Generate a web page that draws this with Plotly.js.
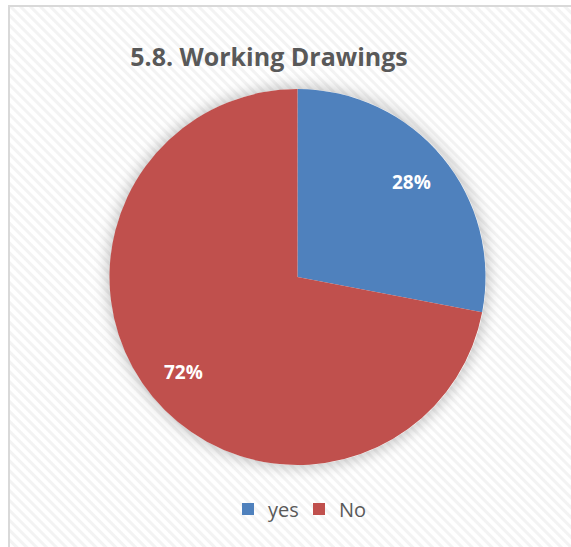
<!DOCTYPE html>
<html>
<head>
<meta charset="utf-8">
<script src="https://cdn.plot.ly/plotly-3.0.1.min.js"></script>
<style>
html,body{margin:0;padding:0;width:571px;height:547px;overflow:hidden;background:#fff;}
#frame{position:absolute;left:8px;top:5px;width:620px;height:600px;border:2px solid #d9d9d9;
 background:repeating-linear-gradient(45deg,#ffffff 0px,#ffffff 3px,#f3f3f3 4px,#f3f3f3 6px,#ffffff 7px);}
#glow{position:absolute;left:110px;top:89px;width:376px;height:376px;border-radius:50%;
 box-shadow:0 0 14px 3px rgba(0,0,0,0.22);}
#chart{position:absolute;left:0;top:0;width:571px;height:547px;}
</style>
</head>
<body>
<div id="frame"></div>
<div id="glow"></div>
<div id="chart"></div>
<script>
const categories = ["yes", "No"];
const values = [28, 72];
const colors = ["#4F81BD", "#C0504D"];
const chartTitle = "5.8. Working Drawings";

const W = 571, H = 547;
const cx = 297.5, cy = 277, r = 188;

const total = values.reduce((a, b) => a + b, 0);
const annotations = [];
let cum = 0;
values.forEach((v, i) => {
  const mid = (cum + v / 2) / total * 2 * Math.PI;
  cum += v;
  const d = 0.79 * r;
  annotations.push({
    xref: "paper", yref: "paper",
    x: (cx + d * Math.sin(mid)) / W,
    y: (H - (cy - d * Math.cos(mid))) / H,
    xanchor: "center", yanchor: "middle",
    showarrow: false,
    text: "<b>" + Math.round(v / total * 100) + "%</b>",
    font: {family: "Open Sans, sans-serif", size: 19, color: "#ffffff"}
  });
});

const trace = {
  type: "pie",
  labels: categories,
  values: values,
  sort: false,
  direction: "clockwise",
  rotation: 0,
  marker: {colors: colors, line: {width: 0}},
  textinfo: "none",
  hoverinfo: "none",
  domain: {x: [(cx - r) / W, (cx + r) / W], y: [(H - cy - r) / H, (H - cy + r) / H]}
};

const layout = {
  width: W, height: H,
  margin: {l: 0, r: 0, t: 0, b: 0},
  paper_bgcolor: "rgba(0,0,0,0)",
  plot_bgcolor: "rgba(0,0,0,0)",
  title: {
    text: "<b>" + chartTitle + "</b>",
    x: 269 / W, xanchor: "center",
    y: 1 - 57 / H, yanchor: "middle",
    font: {family: "Open Sans, sans-serif", size: 25, color: "#595959"}
  },
  annotations: annotations,
  showlegend: true,
  legend: {
    orientation: "h",
    x: 299 / W, xanchor: "center",
    y: (H - 509) / H, yanchor: "middle",
    font: {family: "Open Sans, sans-serif", size: 20, color: "#595959"},
    bgcolor: "rgba(0,0,0,0)",
    itemwidth: 30,
    entrywidth: 26
  }
};

Plotly.newPlot("chart", [trace], layout, {displayModeBar: false, staticPlot: true});
</script>
</body>
</html>
